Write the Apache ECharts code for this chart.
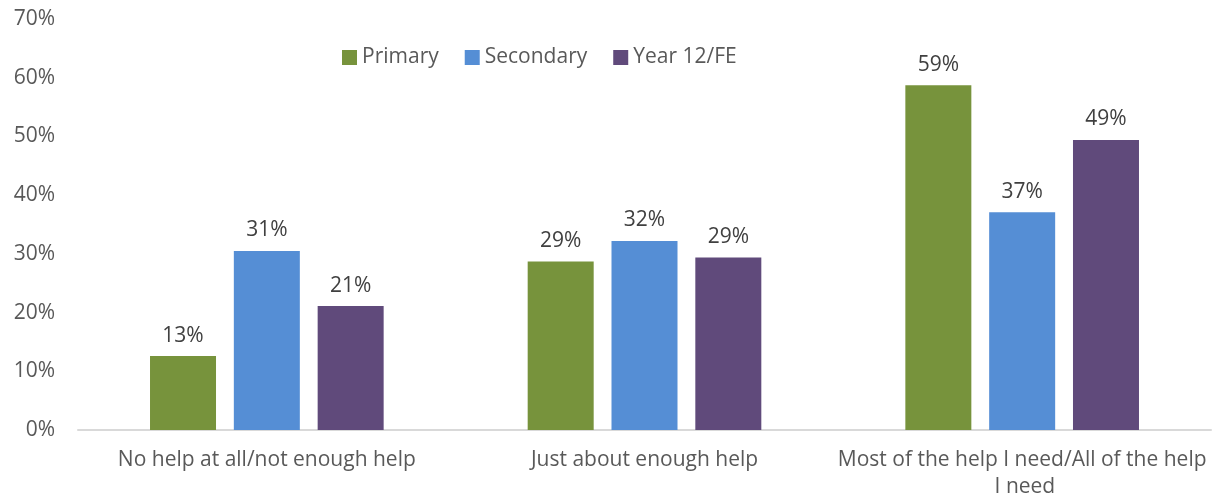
<!DOCTYPE html>
<html>
<head>
<meta charset="utf-8">
<script src="https://cdn.jsdelivr.net/npm/echarts@6/dist/echarts.min.js"></script>
<style>html,body{margin:0;padding:0;background:#fff}#c{width:1220px;height:499px}</style>
</head>
<body>
<div id="c"></div>
<script>
const categories = ["No help at all/not enough help", "Just about enough help", "Most of the help I need/All of the help I need"];
const seriesNames = ["Primary", "Secondary", "Year 12/FE"];
const primary = [12.6, 28.7, 58.7];
const secondary = [30.5, 32.2, 37.1];
const year12 = [21.1, 29.4, 49.4];
const yTicks = [0, 10, 20, 30, 40, 50, 60, 70];
const colors = ["#77933C", "#558ED5", "#604A7B"];

const FONT = "Open Sans";
const chart = echarts.init(document.getElementById('c'));
const values = [primary, secondary, year12];
chart.setOption({
  animation: false,
  textStyle: {fontFamily: FONT},
  grid: {left: 78, right: 9, top: 19, bottom: 69, containLabel: false, outerBoundsMode: 'none'},
  legend: {
    top: 42, left: 337, itemWidth: 15, itemHeight: 15, itemGap: 26,
    icon: 'rect',
    textStyle: {fontFamily: FONT, fontSize: 21, color: '#595959'},
    data: seriesNames
  },
  xAxis: {
    type: 'category', data: categories,
    axisLine: {lineStyle: {color: '#d9d9d9', width: 2}},
    axisTick: {show: false},
    axisLabel: {fontFamily: FONT, fontSize: 21, color: '#595959', margin: 17, width: 372, overflow: 'break', lineHeight: 27, interval: 0}
  },
  yAxis: {
    type: 'value', min: yTicks[0], max: yTicks[yTicks.length-1], interval: 10,
    splitLine: {show: false},
    axisLine: {show: false}, axisTick: {show: false},
    axisLabel: {fontFamily: FONT, fontSize: 21, color: '#595959', margin: 23, formatter: v => v + '%'}
  },
  series: seriesNames.map((n, i) => ({
    name: n, type: 'bar', data: values[i], barWidth: 66, barGap: '27%',
    itemStyle: {color: colors[i]},
    label: {show: true, position: 'top', distance: 10, fontFamily: FONT, fontSize: 21, color: '#404040', formatter: p => Math.round(p.value) + '%'}
  }))
});
</script>
</body>
</html>
